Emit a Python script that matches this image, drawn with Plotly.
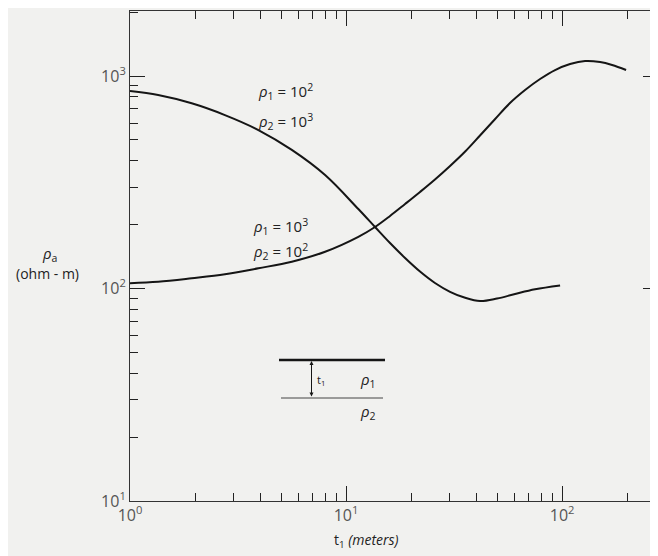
import plotly.graph_objects as go

# curve rho1=10^2, rho2=10^3
t_a = [1.0, 1.35, 1.93, 2.75, 3.93, 5.61, 8.0, 11.4, 13.62, 15.98, 18.76, 22.0, 25.8, 30.3, 35.6, 41.7, 50.0, 60.6, 75.0, 97.9]
rho_a = [850, 814, 744, 655, 557, 449, 342, 236.6, 194.7, 163.7, 139.2, 120.2, 106.2, 96.5, 90.4, 87.3, 89.7, 94.2, 99.1, 103.3]

# curve rho1=10^3, rho2=10^2
t_b = [1.0, 1.35, 1.93, 2.75, 3.93, 5.61, 8.0, 11.4, 13.62, 15.98, 18.76, 22.0, 25.8, 30.3, 35.6, 41.7,
       49.0, 57.4, 67.4, 79.1, 92.8, 108.9, 127.8, 150.0, 170.4, 197.8]
rho_b = [106, 107.6, 111.7, 116.6, 124.5, 133.7, 148.9, 175, 194.7, 219.4, 249.8, 284.6, 325.8, 377.2, 441.2, 524.8,
         627.6, 746.4, 859.4, 968, 1067, 1139, 1177, 1164, 1127, 1067]

x_ticks = [1, 10, 100]
x_ticktext = ["10<sup>0</sup>", "10<sup>1</sup>", "10<sup>2</sup>"]
y_ticks = [10, 100, 1000]
y_ticktext = ["10<sup>1</sup>", "10<sup>2</sup>", "10<sup>3</sup>"]

# page body adds an 8px margin, so the figure is 8px smaller and shifted
OFF = 8
W, H = 658 - OFF, 556 - OFF
L, R, T, B = 130, 658, 11, 501  # plot area in page pixels

def px(x):
    return (x - L) / (R - L)

def py(y):
    return (B - y) / (B - T)

ink = "#151515"
bg = "#f1f1ef"
font = "Open Sans"

fig = go.Figure()
for xs, ys in [(t_a, rho_a), (t_b, rho_b)]:
    fig.add_trace(go.Scatter(x=xs, y=ys, mode="lines", line=dict(color=ink, width=2, shape="spline", smoothing=1.0),
                             showlegend=False, hoverinfo="skip"))

axis_common = dict(type="log", showline=True, linecolor="#333", linewidth=1, mirror="ticks", showgrid=False,
                   zeroline=False, ticks="inside", ticklen=15, tickwidth=1.3, tickcolor="#222",
                   tickfont=dict(family=font, size=16, color="#555"),
                   minor=dict(ticks="inside", ticklen=8, tickwidth=1.2, tickcolor="#222", dtick="D1", showgrid=False))

fig.update_xaxes(range=[0, 2.444], tickvals=x_ticks, ticktext=x_ticktext, **axis_common)
fig.update_yaxes(range=[1, 3.306], tickvals=y_ticks, ticktext=y_ticktext, **axis_common)

ann = []
def txt(x, y, s, size=14, color="#222", xanchor="center"):
    ann.append(dict(x=px(x), y=py(y), xref="paper", yref="paper", text=s, showarrow=False,
                    font=dict(family=font, size=size, color=color), xanchor=xanchor, yanchor="middle"))

txt(285, 92, "<i>ρ</i><sub>1</sub> = 10<sup>2</sup>", size=15)
txt(285, 121, "<i>ρ</i><sub>2</sub> = 10<sup>3</sup>", size=15)
txt(280, 226, "<i>ρ</i><sub>1</sub> = 10<sup>3</sup>", size=15)
txt(280, 251, "<i>ρ</i><sub>2</sub> = 10<sup>2</sup>", size=15)
txt(49, 254, "<i>ρ</i><sub>a</sub>", size=15)
txt(47, 273, "(ohm - m)", size=14)
txt(366, 540, "t<sub>1</sub> <i>(meters)</i>", size=14)
txt(321, 380, "t<sub>1</sub>", size=11)
txt(368, 380, "<i>ρ</i><sub>1</sub>", size=15)
txt(368, 412, "<i>ρ</i><sub>2</sub>", size=15)

# double arrow for layer thickness
ann.append(dict(x=px(311.5), y=py(361), xref="paper", yref="paper", ax=0, ay=37, axref="pixel", ayref="pixel",
                text="", showarrow=True, arrowhead=2, startarrowhead=2, arrowside="end+start",
                arrowsize=0.8, arrowwidth=1, arrowcolor=ink))

shapes = [
    dict(type="line", xref="paper", yref="paper", x0=px(279), x1=px(385), y0=py(360), y1=py(360),
         line=dict(color=ink, width=2.5)),
    dict(type="line", xref="paper", yref="paper", x0=px(281), x1=px(383), y0=py(398), y1=py(398),
         line=dict(color="#444", width=1)),
]

fig.update_layout(width=W, height=H, margin=dict(l=L - OFF, r=0, t=T - OFF, b=H - (B - OFF)),
                  paper_bgcolor=bg, plot_bgcolor=bg, annotations=ann, shapes=shapes)

fig.write_html("out.html")
